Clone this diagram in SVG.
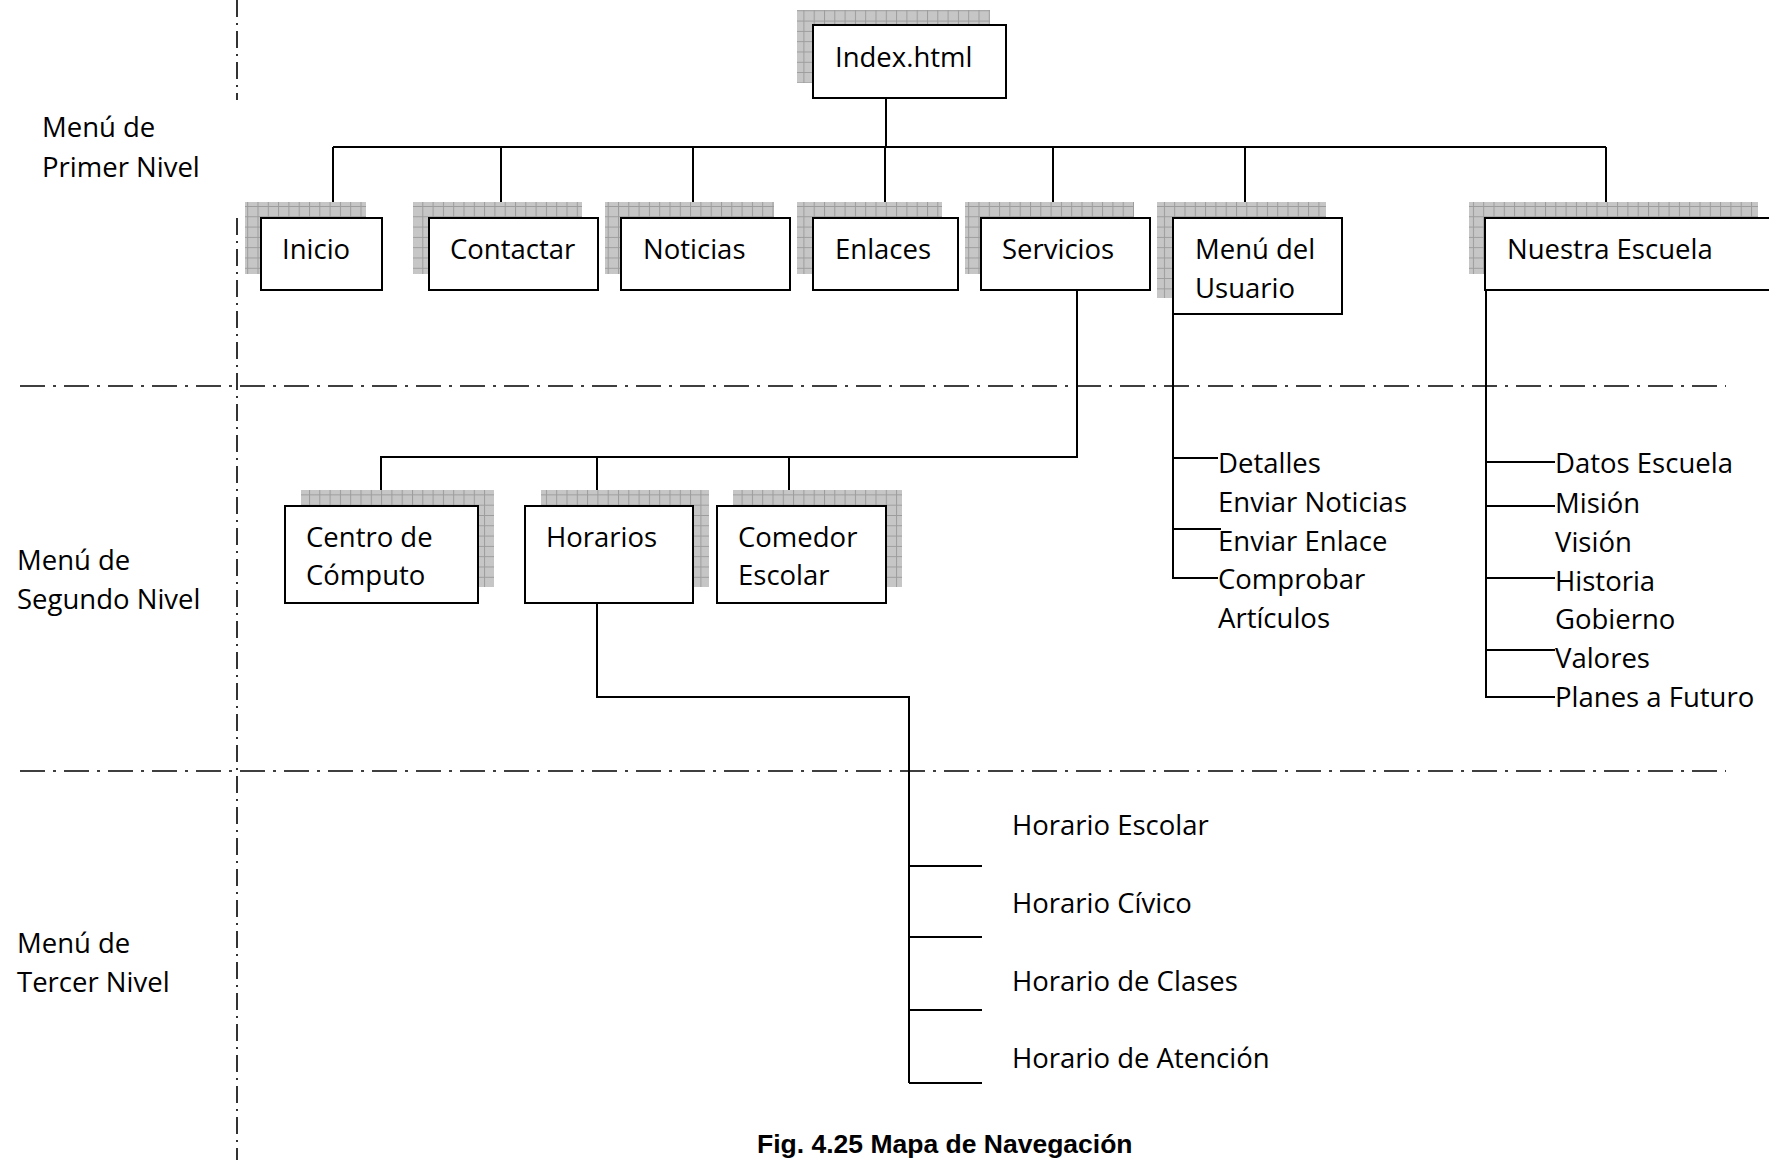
<svg xmlns="http://www.w3.org/2000/svg" width="1769" height="1160" viewBox="0 0 1769 1160">
<defs>
<pattern id="grid" width="10.3" height="10.3" patternUnits="userSpaceOnUse">
<rect width="10.3" height="10.3" fill="#c6c6c6"/>
<path d="M0 0.5H10.3M0.5 0V10.3" stroke="#9c9c9c" stroke-width="1"/>
</pattern>
</defs>
<style>
.box{fill:#fff;stroke:#000;stroke-width:2}
.sh{fill:url(#grid)}
.t{font-family:"Open Sans","Liberation Sans",sans-serif;font-size:27.5px;fill:#000}
.c{fill:none;stroke:#000;stroke-width:2}
.dh{fill:none;stroke:#000;stroke-width:1.6;stroke-dasharray:25 8 3 8}
.dv{fill:none;stroke:#000;stroke-width:1.6;stroke-dasharray:17 6 2 6}
.cap{font-family:"Liberation Sans",Arial,sans-serif;font-size:26.5px;font-weight:bold;fill:#000}
</style>

<g id="guides">
<path class="dv" d="M237 0V100"/>
<path class="dv" d="M237 218V1160"/>
<path class="dh" d="M20 386H1726"/>
<path class="dh" d="M20 771H1726"/>
</g>

<g id="level-labels">
<text class="t" x="42" y="137">Menú de</text>
<text class="t" x="42" y="177">Primer Nivel</text>
<text class="t" x="17" y="570">Menú de</text>
<text class="t" x="17" y="609">Segundo Nivel</text>
<text class="t" x="17" y="953">Menú de</text>
<text class="t" x="17" y="992">Tercer Nivel</text>
</g>

<g id="connectors">
<path class="c" d="M886 98V147"/>
<path class="c" d="M333 147H1606"/>
<path class="c" d="M333 147V218M501 147V218M693 147V218M885 147V218M1053 147V218M1245 147V218M1606 147V218"/>
<path class="c" d="M1077 290V457H381V506M597 457V506M789 457V506"/>
<path class="c" d="M597 602V697H909V1083"/>
<path class="c" d="M909 866H982M909 937H982M909 1010H982M909 1083H982"/>
<path class="c" d="M1173 314V578H1218M1173 458H1218M1173 529H1221"/>
<path class="c" d="M1486 290V697H1555M1486 462H1555M1486 506H1555M1486 578H1555M1486 650H1555"/>
</g>

<g id="index">
<rect class="sh" x="797" y="10" width="193" height="73"/>
<rect class="box" x="813" y="25" width="193" height="73"/>
<text class="t" x="835" y="67">Index.html</text>
</g>

<g id="inicio">
<rect class="sh" x="245" y="202" width="121" height="72"/>
<rect class="box" x="261" y="218" width="121" height="72"/>
<text class="t" x="282" y="259">Inicio</text>
</g>

<g id="contactar">
<rect class="sh" x="413" y="202" width="169" height="72"/>
<rect class="box" x="429" y="218" width="169" height="72"/>
<text class="t" x="450" y="259">Contactar</text>
</g>

<g id="noticias">
<rect class="sh" x="605" y="202" width="169" height="72"/>
<rect class="box" x="621" y="218" width="169" height="72"/>
<text class="t" x="643" y="259">Noticias</text>
</g>

<g id="enlaces">
<rect class="sh" x="797" y="202" width="145" height="72"/>
<rect class="box" x="813" y="218" width="145" height="72"/>
<text class="t" x="835" y="259">Enlaces</text>
</g>

<g id="servicios">
<rect class="sh" x="965" y="202" width="169" height="72"/>
<rect class="box" x="981" y="218" width="169" height="72"/>
<text class="t" x="1002" y="259">Servicios</text>
</g>

<g id="menu-usuario">
<rect class="sh" x="1157" y="202" width="169" height="96"/>
<rect class="box" x="1173" y="218" width="169" height="96"/>
<text class="t" x="1195" y="259">Menú del</text>
<text class="t" x="1195" y="298">Usuario</text>
</g>

<g id="nuestra-escuela">
<rect class="sh" x="1469" y="202" width="289" height="72"/>
<rect class="box" x="1485" y="218" width="300" height="72"/>
<text class="t" x="1507" y="259">Nuestra Escuela</text>
</g>

<g id="centro-computo">
<rect class="sh" x="301" y="490" width="193" height="97"/>
<rect class="box" x="285" y="506" width="193" height="97"/>
<text class="t" x="306" y="547">Centro de</text>
<text class="t" x="306" y="585">Cómputo</text>
</g>

<g id="horarios">
<rect class="sh" x="541" y="490" width="168" height="97"/>
<rect class="box" x="525" y="506" width="168" height="97"/>
<text class="t" x="546" y="547">Horarios</text>
</g>

<g id="comedor">
<rect class="sh" x="733" y="490" width="169" height="97"/>
<rect class="box" x="717" y="506" width="169" height="97"/>
<text class="t" x="738" y="547">Comedor</text>
<text class="t" x="738" y="585">Escolar</text>
</g>

<g id="usuario-items">
<text class="t" x="1218" y="473">Detalles</text>
<text class="t" x="1218" y="512">Enviar Noticias</text>
<text class="t" x="1218" y="551">Enviar Enlace</text>
<text class="t" x="1218" y="589">Comprobar</text>
<text class="t" x="1218" y="628">Artículos</text>
</g>

<g id="escuela-items">
<text class="t" x="1555" y="473">Datos Escuela</text>
<text class="t" x="1555" y="513">Misión</text>
<text class="t" x="1555" y="552">Visión</text>
<text class="t" x="1555" y="591">Historia</text>
<text class="t" x="1555" y="629">Gobierno</text>
<text class="t" x="1555" y="668">Valores</text>
<text class="t" x="1555" y="707">Planes a Futuro</text>
</g>

<g id="horario-items">
<text class="t" x="1012" y="835">Horario Escolar</text>
<text class="t" x="1012" y="913">Horario Cívico</text>
<text class="t" x="1012" y="991">Horario de Clases</text>
<text class="t" x="1012" y="1068">Horario de Atención</text>
</g>

<text class="cap" x="757" y="1153">Fig. 4.25 Mapa de Navegación</text>
</svg>
